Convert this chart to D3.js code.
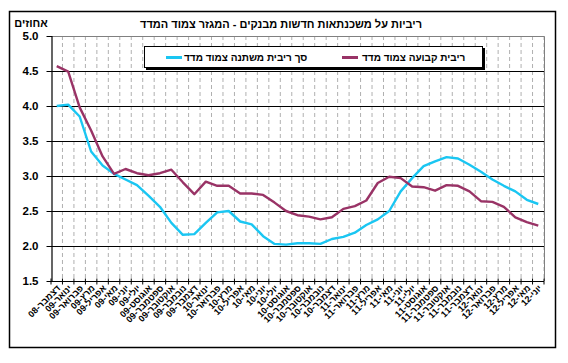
<!DOCTYPE html>
<html><head><meta charset="utf-8">
<script src="https://cdn.jsdelivr.net/npm/d3@7"></script>
<style>
body{margin:0;background:#fff;}
text{font-family:"Liberation Sans",Arial,"DejaVu Sans",sans-serif;font-weight:bold;fill:#000;}
</style></head>
<body><svg id="c" width="568" height="363"></svg>
<script>
const months = ["ינואר","פברואר","מרץ","אפריל","מאי","יוני","יולי","אוגוסט","ספטמבר","אוקטובר","נובמבר","דצמבר"];
const categories = ["דצמבר-08"];
["09","10","11"].forEach(y => months.forEach(m => categories.push(m + "-" + y)));
months.slice(0,6).forEach(m => categories.push(m + "-12"));

const variableRate = [4.00,4.02,3.85,3.35,3.15,3.03,2.95,2.87,2.72,2.56,2.33,2.16,2.17,2.33,2.48,2.50,2.35,2.31,2.14,2.03,2.02,2.04,2.04,2.03,2.10,2.13,2.19,2.30,2.38,2.50,2.78,2.97,3.14,3.21,3.27,3.25,3.16,3.06,2.95,2.86,2.78,2.66,2.60];
const fixedRate = [4.57,4.49,3.98,3.65,3.28,3.03,3.10,3.04,3.01,3.04,3.09,2.91,2.74,2.92,2.86,2.86,2.75,2.75,2.73,2.62,2.50,2.44,2.42,2.38,2.41,2.53,2.57,2.65,2.90,2.99,2.97,2.85,2.84,2.79,2.87,2.86,2.78,2.64,2.63,2.56,2.41,2.34,2.29];
const yTicks = [1.5,2.0,2.5,3.0,3.5,4.0,4.5,5.0];
const seriesNames = ["סך ריבית משתנה צמוד מדד","ריבית קבועה צמוד מדד"];
const title = "ריביות על משכנתאות חדשות מבנקים - המגזר צמוד המדד";
const yTitle = "אחוזים";

const svg = d3.select("#c");
const L = 51, R = 544, T = 36, B = 281;
const x = d3.scaleBand().domain(categories).range([L, R]).padding(0);
const y = d3.scaleLinear().domain([1.5, 5]).range([B, T]);
const cx = d => x(d) + x.bandwidth()/2;

// outer frame
svg.append("rect").attr("x",9.5).attr("y",11.5).attr("width",546).attr("height",336)
  .attr("fill","none").attr("stroke","#000").attr("stroke-width",1.5);

// vertical dashed gridlines
const vt = categories.map(c => x(c)).concat([R]);
svg.append("g").selectAll("line").data(vt.slice(1)).join("line")
  .attr("x1",d=>d).attr("x2",d=>d).attr("y1",T).attr("y2",B)
  .attr("stroke","#b0b0b0").attr("stroke-dasharray","4,3").attr("stroke-width",1);

// horizontal gridlines
svg.append("g").selectAll("line").data(yTicks.filter(v=>v>1.5 && v<5)).join("line")
  .attr("x1",L).attr("x2",R).attr("y1",d=>Math.round(y(d))+0.5).attr("y2",d=>Math.round(y(d))+0.5)
  .attr("stroke","#000").attr("stroke-width",1);

// plot border top/right (gray)
svg.append("path").attr("d",`M${L},${T+0.5}H${R+0.5}V${B}`).attr("fill","none").attr("stroke","#808080").attr("stroke-width",1);

// y axis
const yAxis = d3.axisLeft(y).tickValues(yTicks).tickFormat(d3.format(".1f")).tickSize(4).tickPadding(9);
const gy = svg.append("g").attr("transform",`translate(${L+0.5},0)`).call(yAxis);
gy.select(".domain").attr("stroke","#000").attr("stroke-width",1.2);
gy.selectAll(".tick line").attr("stroke","#000").attr("x2",-5).attr("x1",0);
gy.selectAll(".tick text").attr("font-size","11.5px").attr("font-weight","bold")
  .attr("font-family","'Liberation Sans',Arial,sans-serif").attr("fill","#000");

// x axis
const gx = svg.append("g").attr("transform",`translate(0,${B+0.5})`);
gx.append("line").attr("x1",L).attr("x2",R).attr("stroke","#000").attr("stroke-width",1.2);
gx.selectAll("line.t").data(vt).join("line").attr("class","t")
  .attr("x1",d=>d).attr("x2",d=>d).attr("y1",-3).attr("y2",3).attr("stroke","#000");
gx.selectAll("text").data(categories).join("text")
  .attr("transform",d=>`translate(${cx(d)+2},5) rotate(-45)`)
  .attr("text-anchor","end").attr("dy","0.35em").attr("font-size","9px")
  .text(d=>d);

// lines
const line = d3.line().x((d,i)=>cx(categories[i])).y(d=>y(d));
svg.append("path").datum(variableRate).attr("d",line).attr("fill","none")
  .attr("stroke","#1ac6f2").attr("stroke-width",2.4).attr("stroke-linejoin","round");
svg.append("path").datum(fixedRate).attr("d",line).attr("fill","none")
  .attr("stroke","#993366").attr("stroke-width",2.4).attr("stroke-linejoin","round");

// titles
svg.append("text").attr("x",281).attr("y",28).attr("text-anchor","middle").attr("font-size","11px").text(title);
svg.append("text").attr("x",31).attr("y",27).attr("text-anchor","middle").attr("font-size","11px").text(yTitle);

// legend
const lg = svg.append("g");
lg.append("rect").attr("x",146).attr("y",48).attr("width",339).attr("height",22).attr("fill","#000");
lg.append("rect").attr("x",144.5).attr("y",46.5).attr("width",338).attr("height",21).attr("fill","#fff").attr("stroke","#000").attr("stroke-width",1);
const items = [{sx:166, tx:184, name:seriesNames[0], color:"#1ac6f2"},{sx:342, tx:362, name:seriesNames[1], color:"#993366"}];
items.forEach(it=>{
  lg.append("line").attr("x1",it.sx).attr("x2",it.sx+16).attr("y1",57.5).attr("y2",57.5).attr("stroke",it.color).attr("stroke-width",3);
  lg.append("text").attr("x",it.tx).attr("y",61).attr("text-anchor","start").attr("font-size","10px").text(it.name);
});
</script></body></html>
